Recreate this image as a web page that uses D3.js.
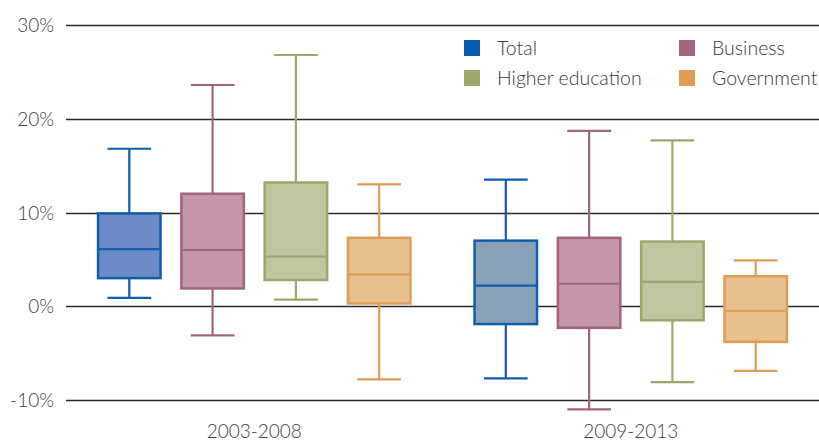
<!DOCTYPE html>
<html><head><meta charset="utf-8">
<script src="https://cdn.jsdelivr.net/npm/d3@7"></script>
<style>body{margin:0;background:#fff}svg{display:block}text{font-family:Lato,"Open Sans",sans-serif}</style>
</head><body><svg id="c" width="819" height="445"></svg>
<script>
const periods = ["2003-2008", "2009-2013"];
const sectors = ["Total", "Business", "Higher education", "Government"];
const yTicks = [-10, 0, 10, 20, 30];
// values in % : [min, q1, median, q3, max] per period, per sector
const total      = [[0.9, 3.0, 6.1, 9.9, 16.8], [-7.7, -1.9, 2.2, 7.0, 13.5]];
const business   = [[-3.1, 1.9, 6.0, 12.0, 23.6], [-11.0, -2.3, 2.4, 7.3, 18.7]];
const higherEd   = [[0.7, 2.8, 5.3, 13.2, 26.8], [-8.1, -1.5, 2.6, 6.9, 17.7]];
const government = [[-7.8, 0.3, 3.4, 7.3, 13.0], [-6.9, -3.8, -0.5, 3.2, 4.9]];
const seriesData = [total, business, higherEd, government];
const strokeCol = ["#0d5eae", "#a3647f", "#9aa86c", "#dd9d55"];
const fillCol = [["#6b8ac6", "#8aa0b8"], ["#c497a8", "#c497a8"], ["#bec59f", "#bec59f"], ["#e8c090", "#e8c090"]];
const legendCol = ["#0a5aad", "#a3647f", "#9aa86c", "#dc9e55"];

(function () {
const svg = d3.select("#c");
const mLeft = 66, mRight = 819, mTop = 25, mBottom = 400;
const y = d3.scaleLinear().domain([-10, 30]).range([mBottom, mTop]);
const x0 = d3.scaleBand().domain(periods).range([mLeft, mRight]);
const x1 = d3.scaleBand().domain(sectors).range([0, x0.bandwidth()]).paddingInner(0.25).paddingOuter(0.385);

// grid
svg.append("g").selectAll("line").data(yTicks).join("line")
  .attr("x1", mLeft).attr("x2", mRight)
  .attr("y1", d => Math.round(y(d)) + 0.5).attr("y2", d => Math.round(y(d)) + 0.5)
  .attr("stroke", "#2a2a2a").attr("stroke-width", 1.3);

// y labels
const yAxis = d3.axisLeft(y).tickValues(yTicks).tickSize(0).tickPadding(0).tickFormat(d => d + "%");
const ya = svg.append("g").attr("transform", `translate(54,0)`).call(yAxis);
ya.select(".domain").remove();
ya.selectAll("text").attr("font-size", 19).attr("fill", "#404040").attr("font-family", "Lato").attr("font-weight", 300).attr("dy", "0.35em");

// x labels
const xAxis = d3.axisBottom(x0).tickSize(0).tickPadding(0);
const xa = svg.append("g").attr("transform", `translate(0,424)`).call(xAxis);
xa.select(".domain").remove();
xa.selectAll("text").attr("font-size", 19).attr("fill", "#404040").attr("font-family", "Lato").attr("font-weight", 300).attr("dy", "0.71em");

// boxes
const bw = x1.bandwidth();
const capW = bw * 0.7;
sectors.forEach((s, si) => {
  periods.forEach((p, pi) => {
    const [mn, q1, md, q3, mx] = seriesData[si][pi];
    const cx = x0(p) + x1(s) + bw / 2;
    const g = svg.append("g").attr("stroke", strokeCol[si]).attr("stroke-width", 2.2);
    g.append("line").attr("x1", cx).attr("x2", cx).attr("y1", y(mx)).attr("y2", y(q3));
    g.append("line").attr("x1", cx).attr("x2", cx).attr("y1", y(q1)).attr("y2", y(mn));
    g.append("line").attr("x1", cx - capW / 2).attr("x2", cx + capW / 2).attr("y1", y(mx)).attr("y2", y(mx));
    g.append("line").attr("x1", cx - capW / 2).attr("x2", cx + capW / 2).attr("y1", y(mn)).attr("y2", y(mn));
    g.append("rect").attr("x", cx - bw / 2).attr("width", bw).attr("y", y(q3)).attr("height", y(q1) - y(q3))
      .attr("fill", fillCol[si][pi]).attr("stroke-width", 2.5);
    g.append("line").attr("x1", cx - bw / 2).attr("x2", cx + bw / 2).attr("y1", y(md)).attr("y2", y(md));
  });
});

// legend
const legPos = [[464, 48], [679, 48], [464, 78], [679, 78]];
sectors.forEach((s, i) => {
  const [lx, ly] = legPos[i];
  svg.append("rect").attr("x", lx).attr("y", ly - 8).attr("width", 16).attr("height", 16).attr("fill", legendCol[i]);
  svg.append("text").attr("x", lx + 33).attr("y", ly).attr("dy", "0.35em").attr("font-size", 19.5)
    .attr("font-weight", 300).attr("fill", "#383838").text(s);
});
})();
</script></body></html>
